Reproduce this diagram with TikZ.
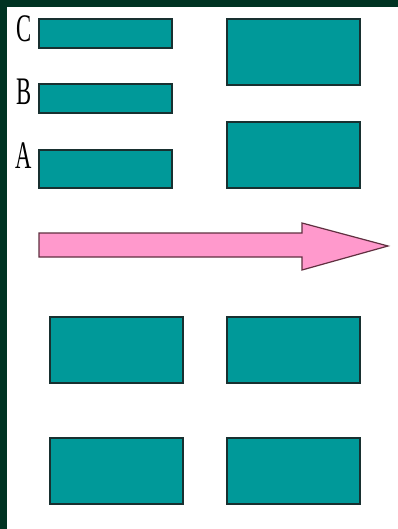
\documentclass[tikz,border=0pt]{standalone}
\usepackage{fontspec}
\setmainfont{Liberation Serif}
\definecolor{framegreen}{RGB}{0,51,34}
\definecolor{barteal}{RGB}{0,153,153}
\definecolor{baredge}{RGB}{24,48,48}
\definecolor{arrowpink}{RGB}{255,153,204}
\definecolor{arrowedge}{RGB}{96,48,64}
\tikzset{
  bar/.style={fill=barteal, draw=baredge, line width=1.2pt},
  barlabel/.style={anchor=base east, inner sep=0pt, font=\fontsize{39}{39}\selectfont}
}
\begin{document}
\begin{tikzpicture}[x=1pt, y=-1pt]
\useasboundingbox (0,0) rectangle (398,529);
\fill[white] (0,0) rectangle (398,529); % background
\fill[framegreen] (0,0) rectangle (398,7); % top band
\fill[framegreen] (0,0) rectangle (7,529); % left band

\draw[bar] (39,19) rectangle (172,48); % bar C
\draw[bar] (39,84) rectangle (172,113); % bar B
\draw[bar] (39,150) rectangle (172,188); % bar A
\node[barlabel] (labC) at (32,42) {\scalebox{0.58}[1]{C}}; % C's label
\node[barlabel] (labB) at (32,105) {\scalebox{0.58}[1]{B}}; % B's label
\node[barlabel] (labA) at (32,169) {\scalebox{0.58}[1]{A}}; % A's label

\draw[bar] (227,19) rectangle (360,85); % top right, upper
\draw[bar] (227,122) rectangle (360,188); % top right, lower

\draw[fill=arrowpink, draw=arrowedge, line width=1.2pt, line join=miter]
  (39,233) -- (302,233) -- (302,223) -- (388,246) -- (302,270) -- (302,257) -- (39,257) -- cycle; % big arrow

\draw[bar] (50,317) rectangle (183,383); % bottom, row 1 left
\draw[bar] (227,317) rectangle (360,383); % bottom, row 1 right
\draw[bar] (50,438) rectangle (183,504); % bottom, row 2 left
\draw[bar] (227,438) rectangle (360,504); % bottom, row 2 right
\end{tikzpicture}
\end{document}
